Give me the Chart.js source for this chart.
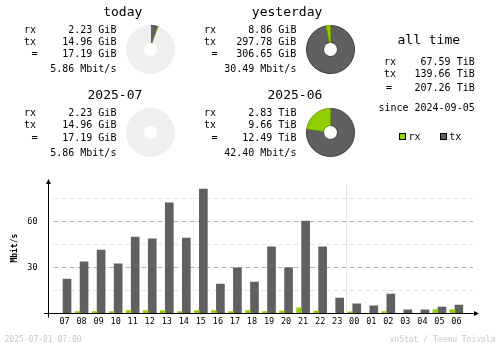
<!DOCTYPE html>
<html>
<head>
<meta charset="utf-8">
<title>vnStat summary</title>
<script src="https://cdn.jsdelivr.net/npm/chart.js@4/dist/chart.umd.min.js"></script>
<style>
  html, body { margin: 0; padding: 0; background: #fff; }
  #page { position: relative; width: 500px; height: 348px; overflow: hidden;
          font-family: 'DejaVu Sans Mono', 'Liberation Mono', monospace; }
  #page canvas { position: absolute; }
  .t { position: absolute; white-space: pre; line-height: 1; color: #000; }
  .sw { position: absolute; width: 5px; height: 5px; border: 1px solid #000; }
</style>
</head>
<body>
<div id="page">
  <canvas id="bars" width="500" height="348" style="left:0;top:0;width:500px;height:348px"></canvas>
</div>
<script>
// ---- hourly traffic, last 24 hours (Mbit/s) ----
const hours = ['07', '08', '09', '10', '11', '12', '13', '14', '15', '16', '17', '18',
               '19', '20', '21', '22', '23', '00', '01', '02', '03', '04', '05', '06'];
const rxMbit = [0, 1.1, 1.1, 1.1, 1.7, 1.7, 1.7, 1.1, 1.7, 1.7, 1.1, 1.7,
                1.2, 1.4, 3.5, 1.5, 0, 0.9, 0, 1.1, 0, 0, 2.4, 2.4];
const txMbit = [22.4, 33.5, 41.3, 32.2, 49.8, 48.5, 72.0, 49.1, 81.0, 19.1, 29.6, 20.4,
                43.3, 29.6, 60.2, 43.3, 10.0, 6.1, 4.8, 12.6, 2.2, 2.2, 4.1, 5.4];
const yLabelTicks = [30, 60];
const yStep = 15;
const yMax = 85;

// ---- summary blocks ----
const periodTitles = ['today', 'yesterday', '2025-07', '2025-06'];
const periodRx = ['2.23 GiB', '8.86 GiB', '2.23 GiB', '2.83 TiB'];
const periodTx = ['14.96 GiB', '297.78 GiB', '14.96 GiB', '9.66 TiB'];
const periodTotal = ['17.19 GiB', '306.65 GiB', '17.19 GiB', '12.49 TiB'];
const periodRate = ['5.86 Mbit/s', '30.49 Mbit/s', '5.86 Mbit/s', '42.40 Mbit/s'];
// donut values in GiB; each ring is scaled against the full period it compares to
const pieRxGiB = [2.23, 8.86, 2.23, 2897.92];
const pieTxGiB = [14.96, 297.78, 14.96, 9891.84];
const pieFullGiB = [306.65, 306.65, 12789.76, 12789.76];

const allTimeRx = '67.59 TiB';
const allTimeTx = '139.66 TiB';
const allTimeTotal = '207.26 TiB';
const sinceDate = '2024-09-05';
const stampText = '2025-07-01 07:00';
const creditText = 'vnStat / Teemu Toivola';

// ---- colours ----
const RX = '#92cf00', RX_EDGE = '#6e9c00';
const TX = '#606060', TX_EDGE = '#3c3c3c';
const EMPTY = '#efefef';
const LINE = '#b0b0b0', LINE_LIGHT = '#e2e2e2';
const FAINT = '#c8c8c8';

const page = document.getElementById('page');

// text helper: x/baseline in page pixels (DejaVu Sans Mono metrics, line-height 1)
function addText(str, x, base, size, align, opts) {
  opts = opts || {};
  const d = document.createElement('div');
  d.className = 't';
  d.textContent = str;
  d.style.fontSize = size + 'px';
  if (opts.color) d.style.color = opts.color;
  if (opts.weight) d.style.fontWeight = opts.weight;
  d.style.top = (base - 0.846 * size) + 'px';
  if (align === 'right') {
    d.style.right = (500 - x) + 'px';
    d.style.textAlign = 'right';
  } else if (align === 'center') {
    d.style.left = (x - 150) + 'px';
    d.style.width = '300px';
    d.style.textAlign = 'center';
  } else {
    d.style.left = x + 'px';
  }
  page.appendChild(d);
  return d;
}

// ---- summary text blocks ----
const blockOrigin = [[0, 0], [180, 0], [0, 83.4], [180, 83.4]];
periodTitles.forEach((title, i) => {
  const [ox, oy] = blockOrigin[i];
  addText(title, 142.3 + ox, 15.7 + oy, 13, 'right');
  addText('rx', 24 + ox, 33.3 + oy, 10, 'left');
  addText('tx', 24 + ox, 45.0 + oy, 10, 'left');
  addText('=', 31.5 + ox, 57.7 + oy, 10, 'left');
  addText(periodRx[i], 116.4 + ox, 33.3 + oy, 10, 'right');
  addText(periodTx[i], 116.4 + ox, 45.0 + oy, 10, 'right');
  addText(periodTotal[i], 116.4 + ox, 57.7 + oy, 10, 'right');
  addText(periodRate[i], 116.4 + ox, 72.7 + oy, 10, 'right');
});

addText('all time', 428.8, 44.3, 13, 'center');
addText('rx', 384, 65.7, 10, 'left');
addText('tx', 384, 77.3, 10, 'left');
addText('=', 386, 91.7, 10, 'left');
addText(allTimeRx, 474.7, 65.7, 10, 'right');
addText(allTimeTx, 474.7, 77.3, 10, 'right');
addText(allTimeTotal, 474.7, 91.7, 10, 'right');
addText('since ' + sinceDate, 474.7, 111.7, 10, 'right');

// legend
function swatch(x, y, color) {
  const s = document.createElement('div');
  s.className = 'sw';
  s.style.left = x + 'px';
  s.style.top = y + 'px';
  s.style.background = color;
  page.appendChild(s);
}
swatch(399, 133, RX);
addText('rx', 408.5, 140, 10, 'left');
swatch(440, 133, TX);
addText('tx', 449.3, 140, 10, 'left');

// footer
addText(stampText, 4.5, 342.3, 8, 'left', { color: FAINT });
addText(creditText, 495.5, 342.3, 8, 'right', { color: FAINT });

// ---- donuts ----
const pieBoxes = [[126, 25], [306, 25], [126, 108], [306, 108]];
pieBoxes.forEach(([left, top], i) => {
  const c = document.createElement('canvas');
  c.width = 49; c.height = 49;
  c.style.left = left + 'px';
  c.style.top = top + 'px';
  c.style.width = '49px';
  c.style.height = '49px';
  page.appendChild(c);
  const rest = Math.max(0, pieFullGiB[i] - pieRxGiB[i] - pieTxGiB[i]);
  const values = [pieTxGiB[i], pieRxGiB[i], rest];
  new Chart(c.getContext('2d'), {
    type: 'doughnut',
    data: {
      labels: ['tx', 'rx', ''],
      datasets: [{
        data: values,
        backgroundColor: [TX, RX, EMPTY],
        borderColor: [TX_EDGE, RX_EDGE, EMPTY],
        // hairline slivers are left without an outline
        borderWidth: (ctx) => (values[ctx.dataIndex] / pieFullGiB[i] < 0.004 ? 0 : 1)
      }]
    },
    options: {
      responsive: false,
      animation: false,
      events: [],
      rotation: 0,
      cutout: 7,
      plugins: { legend: { display: false }, tooltip: { enabled: false } }
    }
  });
});

// ---- hourly bar chart ----
const AXIS_X = 48.5;
const vnAxes = {
  id: 'vnAxes',
  beforeDatasetsDraw(chart) {
    const { ctx, scales: { x, y } } = chart;
    ctx.save();
    ctx.lineWidth = 1;
    ctx.setLineDash([5, 3]);
    y.ticks.forEach((t) => {
      if (t.value <= 0 || t.value >= yMax) return;
      const py = Math.round(y.getPixelForValue(t.value)) + 0.5;
      ctx.strokeStyle = yLabelTicks.includes(t.value) ? LINE : LINE_LIGHT;
      ctx.beginPath();
      ctx.moveTo(AXIS_X + 5, py);
      ctx.lineTo(473, py);
      ctx.stroke();
    });
    // day change marker between 23 and 00
    ctx.setLineDash([]);
    const i0 = hours.indexOf('00');
    const sx = Math.round((x.getPixelForValue(i0 - 1) + x.getPixelForValue(i0)) / 2 + 1.5) + 0.5;
    ctx.strokeStyle = LINE_LIGHT;
    ctx.beginPath();
    ctx.moveTo(sx, y.top + 1);
    ctx.lineTo(sx, y.getPixelForValue(0));
    ctx.stroke();
    ctx.restore();
  },
  afterDatasetsDraw(chart) {
    const { ctx, scales: { y } } = chart;
    const ay = Math.round(y.getPixelForValue(0)) + 0.5;
    const top = Math.round(y.top) - 3;
    ctx.save();
    ctx.strokeStyle = '#000';
    ctx.fillStyle = '#000';
    ctx.lineWidth = 1;
    ctx.beginPath();
    ctx.moveTo(AXIS_X, top + 2);
    ctx.lineTo(AXIS_X, ay + 4);
    ctx.moveTo(AXIS_X - 4.5, ay);
    ctx.lineTo(476, ay);
    ctx.stroke();
    ctx.beginPath();
    ctx.moveTo(AXIS_X, top - 1);
    ctx.lineTo(AXIS_X - 2.5, top + 4);
    ctx.lineTo(AXIS_X + 2.5, top + 4);
    ctx.closePath();
    ctx.fill();
    ctx.beginPath();
    ctx.moveTo(479, ay);
    ctx.lineTo(474, ay - 2.5);
    ctx.lineTo(474, ay + 2.5);
    ctx.closePath();
    ctx.fill();
    ctx.restore();
  }
};

new Chart(document.getElementById('bars').getContext('2d'), {
  type: 'bar',
  data: {
    labels: hours,
    datasets: [
      { label: 'rx', data: rxMbit, backgroundColor: RX, barThickness: 5 },
      { label: 'tx', data: txMbit, backgroundColor: TX, barThickness: 8 }
    ]
  },
  options: {
    responsive: false,
    animation: false,
    events: [],
    layout: { padding: { left: 0, right: 36.5, top: 183, bottom: 0 } },
    plugins: { legend: { display: false }, tooltip: { enabled: false }, title: { display: false } },
    scales: {
      x: {
        type: 'category',
        offset: true,
        grid: { display: false, drawTicks: false },
        border: { display: false },
        ticks: {
          color: '#000',
          font: { family: 'DejaVu Sans Mono', size: 8.5 },
          padding: 3,
          labelOffset: 1.5,
          maxRotation: 0,
          autoSkip: false
        },
        afterFit(scale) { scale.height = 34.7; }
      },
      y: {
        min: 0,
        max: yMax,
        grid: { display: false, drawTicks: false },
        border: { display: false },
        ticks: {
          stepSize: yStep,
          color: '#000',
          font: { family: 'DejaVu Sans Mono', size: 8.5 },
          padding: 17,
          callback: (v) => (yLabelTicks.includes(v) ? String(v) : '')
        },
        title: {
          display: true,
          text: 'Mbit/s',
          color: '#000',
          font: { family: 'DejaVu Sans Mono', size: 8, weight: 'bold' },
          padding: { top: 10, bottom: 0 }
        },
        afterFit(scale) { scale.width = 54.5; }
      }
    }
  },
  plugins: [vnAxes]
});
</script>
</body>
</html>
